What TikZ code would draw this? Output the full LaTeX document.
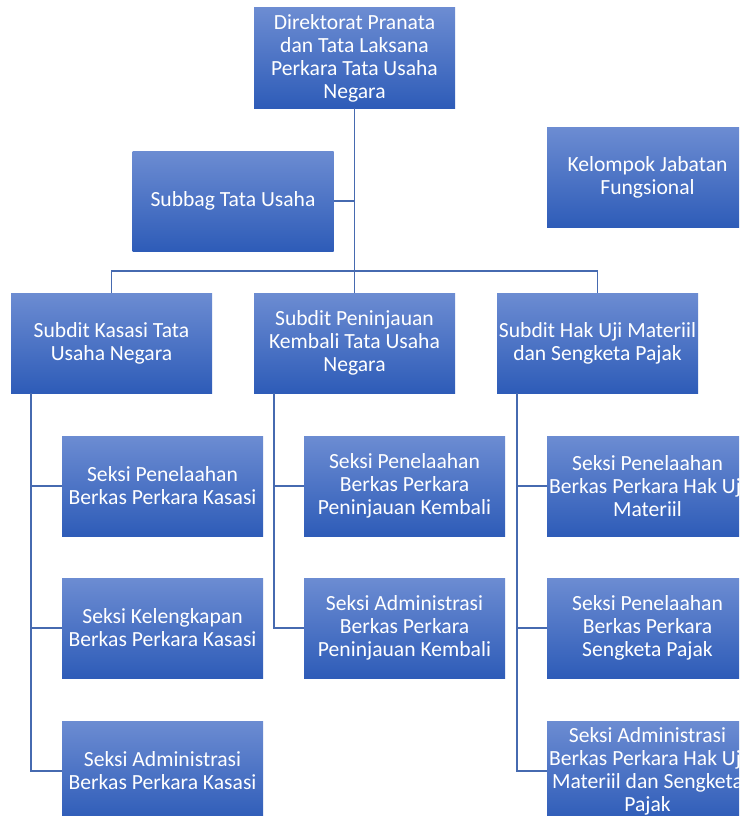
\documentclass[tikz,border=0pt]{standalone}
\usepackage{fontspec}
\setmainfont{Carlito}
\definecolor{boxtop}{RGB}{108,140,210}
\definecolor{boxbot}{RGB}{46,92,184}
\definecolor{linec}{RGB}{70,106,176}
\begin{document}
\begin{tikzpicture}[x=1pt,y=-1pt,
  orgbox/.style={rectangle, minimum width=201pt, minimum height=100pt, inner sep=0pt,
    top color=boxtop, bottom color=boxbot, draw=none, text=white, align=center,
    font=\fontsize{21.6pt}{23pt}\selectfont},
  conn/.style={draw=linec, line width=1.4pt}]
\useasboundingbox (0,0) rectangle (739,816);
\clip (0,0) rectangle (739,816);
\fill[white] (0,0) rectangle (739,816);
% top level
\node[orgbox] (dir) at (354.5,58) {Direktorat Pranata\\dan Tata Laksana\\Perkara Tata Usaha\\Negara};
\node[orgbox] (sub) at (233,201) {Subbag Tata Usaha};
\node[orgbox] (kel) at (647.5,177.5) {Kelompok Jabatan\\Fungsional};
% subdits
\node[orgbox] (kas) at (111.5,343) {Subdit Kasasi Tata\\Usaha Negara};
\node[orgbox] (pk) at (354.5,343) {Subdit Peninjauan\\Kembali Tata Usaha\\Negara};
\node[orgbox] (huj) at (597.5,343) {Subdit Hak Uji Materiil\\dan Sengketa Pajak};
% seksi column 1
\node[orgbox] (k1) at (162.5,486) {Seksi Penelaahan\\Berkas Perkara Kasasi};
\node[orgbox] (k2) at (162.5,628) {Seksi Kelengkapan\\Berkas Perkara Kasasi};
\node[orgbox] (k3) at (162.5,771) {Seksi Administrasi\\Berkas Perkara Kasasi};
% seksi column 2
\node[orgbox] (p1) at (404.5,486) {Seksi Penelaahan\\Berkas Perkara\\Peninjauan Kembali};
\node[orgbox] (p2) at (404.5,628) {Seksi Administrasi\\Berkas Perkara\\Peninjauan Kembali};
% seksi column 3
\node[orgbox] (h1) at (647.5,486) {Seksi Penelaahan\\Berkas Perkara Hak Uji\\Materiil};
\node[orgbox] (h2) at (647.5,628) {Seksi Penelaahan\\Berkas Perkara\\Sengketa Pajak};
\node[orgbox] (h3) at (647.5,771) {Seksi Administrasi\\Berkas Perkara Hak Uji\\Materiil dan Sengketa\\Pajak};
% connectors
\coordinate (bus) at (354.5,271);
\coordinate (kx) at (31,0);
\coordinate (px) at (274,0);
\coordinate (hx) at (517,0);
\draw[conn] (dir.south) -- (dir.south |- bus);
\draw[conn] (sub.east) -- (sub.east -| dir.south);
\draw[conn] (kas.north) -- (kas.north |- bus) -- (huj.north |- bus) -- (huj.north);
\draw[conn] (pk.north) -- (pk.north |- bus);
% kasasi column
\draw[conn] (kas.south -| kx) -- (k3.west -| kx) -- (k3.west);
\draw[conn] (k1.west -| kx) -- (k1.west);
\draw[conn] (k2.west -| kx) -- (k2.west);
% peninjauan column
\draw[conn] (pk.south -| px) -- (p2.west -| px) -- (p2.west);
\draw[conn] (p1.west -| px) -- (p1.west);
% hak uji column
\draw[conn] (huj.south -| hx) -- (h3.west -| hx) -- (h3.west);
\draw[conn] (h1.west -| hx) -- (h1.west);
\draw[conn] (h2.west -| hx) -- (h2.west);
\end{tikzpicture}
\end{document}
